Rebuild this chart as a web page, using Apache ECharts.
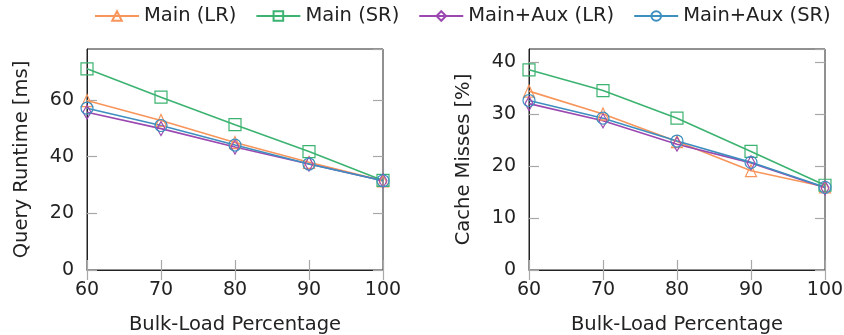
<!DOCTYPE html>
<html>
<head>
<meta charset="utf-8">
<script src="https://cdn.jsdelivr.net/npm/echarts@6/dist/echarts.min.js"></script>
<style>
  html, body { margin: 0; padding: 0; background: #fff; }
  #chart { width: 844px; height: 335px; }
</style>
</head>
<body>
<div id="chart"></div>
<script>
const percentages = [60, 70, 80, 90, 100];

// Query runtime [ms]
const runtimeMainLR = [59.8, 52.8, 45.0, 38.0, 31.5];
const runtimeMainSR = [71.0, 61.0, 51.3, 41.8, 31.6];
const runtimeAuxLR = [55.7, 49.9, 43.4, 37.4, 31.5];
const runtimeAuxSR = [57.1, 51.0, 44.1, 37.4, 31.5];

// Cache misses [%]
const missesMainLR = [34.4, 30.0, 24.7, 19.1, 16.0];
const missesMainSR = [38.5, 34.5, 29.2, 22.8, 16.3];
const missesAuxLR = [32.0, 28.7, 24.2, 20.6, 15.8];
const missesAuxSR = [32.6, 29.2, 24.8, 20.7, 15.9];

const seriesDefs = [
  { name: "Main (LR)", color: "#f7955b", symbol: "triangle", size: [11, 12] },
  { name: "Main (SR)", color: "#3cb371", symbol: "rect", size: 12 },
  { name: "Main+Aux (LR)", color: "#9b48b0", symbol: "diamond", size: [8, 14] },
  { name: "Main+Aux (SR)", color: "#3d8fc0", symbol: "circle", size: 12 },
];

const font = "DejaVu Sans";
const txt = "#222";
const fs = 19.5;
const grids = [
  { left: 87, right: 461, top: 49, bottom: 65, show: true, borderColor: "#222", borderWidth: 1, outerBoundsMode: "none" },
  { left: 529, right: 19, top: 49, bottom: 65, show: true, borderColor: "#222", borderWidth: 1, outerBoundsMode: "none" },
];
const tick = { inside: true, length: 10, lineStyle: { color: "#a8a8a8", width: 1.2 } };

function xAx(g) {
  return [
    {
      gridIndex: g, type: "value", min: 60, max: 100, interval: 10,
      name: "Bulk-Load Percentage", nameLocation: "middle", nameGap: 45,
      nameTextStyle: { fontFamily: font, fontSize: fs, color: txt },
      axisLine: { show: true, lineStyle: { color: "#222" } },
      axisTick: tick,
      axisLabel: { fontFamily: font, fontSize: 19, color: txt, margin: 11 },
      splitLine: { show: false },
    },
    {
      gridIndex: g, type: "value", min: 60, max: 100, interval: 10, position: "top",
      axisLine: { show: false }, axisTick: tick,
      axisLabel: { show: false }, splitLine: { show: false },
    },
  ];
}

function yAx(g, max, step, name) {
  return [
    {
      gridIndex: g, type: "value", min: 0, max: max, interval: step,
      name: name, nameLocation: "middle", nameGap: 55,
      nameTextStyle: { fontFamily: font, fontSize: fs, color: txt },
      axisLine: { show: true, lineStyle: { color: "#222" } },
      axisTick: tick,
      axisLabel: { fontFamily: font, fontSize: 19, color: txt, margin: 13, showMaxLabel: false },
      splitLine: { show: false },
    },
    {
      gridIndex: g, type: "value", min: 0, max: max, interval: step, position: "right",
      axisLine: { show: false }, axisTick: tick,
      axisLabel: { show: false }, splitLine: { show: false },
    },
  ];
}

function mkSeries(def, values, g) {
  return {
    name: def.name, type: "line",
    xAxisIndex: g * 2, yAxisIndex: g * 2,
    data: percentages.map((p, i) => [p, values[i]]),
    symbol: def.symbol, symbolSize: def.size, showAllSymbol: true,
    lineStyle: { color: def.color, width: 1.6 },
    itemStyle: { color: "rgba(255,255,255,0)", borderColor: def.color, borderWidth: 1.2 },
    emphasis: { disabled: true },
    animation: false,
  };
}

const left = [runtimeMainLR, runtimeMainSR, runtimeAuxLR, runtimeAuxSR];
const right = [missesMainLR, missesMainSR, missesAuxLR, missesAuxSR];

const chart = echarts.init(document.getElementById("chart"));
chart.setOption({
  animation: false,
  legend: {
    top: 1, left: 89, itemWidth: 44, itemHeight: 12, itemGap: 19,
    textStyle: { fontFamily: font, fontSize: fs, color: txt },
    data: seriesDefs.map(d => d.name),
  },
  grid: grids,
  xAxis: [...xAx(0), ...xAx(1)],
  yAxis: [...yAx(0, 78, 20, "Query Runtime [ms]"), ...yAx(1, 42.5, 10, "Cache Misses [%]")],
  series: [
    ...seriesDefs.map((d, i) => mkSeries(d, left[i], 0)),
    ...seriesDefs.map((d, i) => mkSeries(d, right[i], 1)),
  ],
});
</script>
</body>
</html>
